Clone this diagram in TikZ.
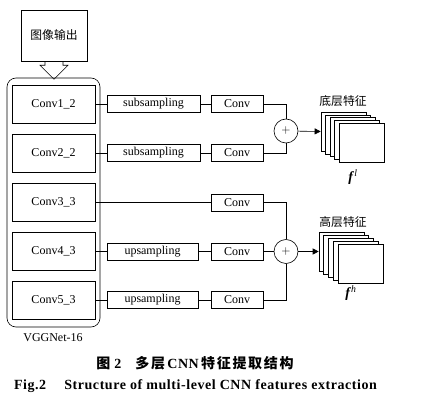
\documentclass[tikz,border=0pt]{standalone}
\usepackage{fontspec}
\setmainfont{Liberation Serif}
\newfontfamily\cjk{Noto Sans CJK SC}
\usetikzlibrary{arrows.meta, positioning, calc}

\begin{document}
\begin{tikzpicture}[
        x=1pt, y=-1pt, line width=0.6pt, font=\fontsize{12}{14}\selectfont,
        layer/.style={draw, minimum width=83pt, minimum height=38pt, inner sep=0pt},
        op/.style={draw, minimum height=17pt, inner sep=0pt},
        sum/.style={draw, circle, minimum size=24pt, inner sep=0pt},
        fm/.style={draw, fill=white, minimum width=45pt, minimum height=39pt, inner sep=0pt},
        lab/.style={font=\cjk\fontsize{11.8}{14}\selectfont},
        figcap/.style={font=\fontsize{14}{16}\selectfont\bfseries\addfontfeature{LetterSpace=4}},
        a/.style={-{Triangle[length=6pt, width=6pt]}},
      ]
        \useasboundingbox (0,0) rectangle (423,403);
        \node[draw, lab, minimum width=66pt, minimum height=51pt] (img) at (54,35.5) {图像输出};
        \node[draw, rounded corners=9pt, minimum width=93pt, minimum height=249pt] (vgg) at (53.5,202.5) {};
        % 空心箭头
        \draw (img.south) ++(-9,0) -- ++(0,4) -- ++(-5,0) -- ++(14,14) -- ++(14,-14) -- ++(-5,0) -- ++(0,-4);
        \node (vname) at (53,338) {VGGNet-16};
        % VGG 卷积层
        \node[layer] (c1) at (53.5,104)   {Conv1\_2};
        \node[layer] (c2) at (53.5,153)   {Conv2\_2};
        \node[layer] (c3) at (53.5,202.5) {Conv3\_3};
        \node[layer] (c4) at (53.5,251.5) {Conv4\_3};
        \node[layer] (c5) at (53.5,300)   {Conv5\_3};
        \node[op, minimum width=93pt] (sub1) at (153.5,104) {subsampling};
        \node[op, minimum width=93pt] (sub2) at (153.5,153) {subsampling};
        \node[op, minimum width=91pt] (up4)  at (152.5,251.5) {upsampling};
        \node[op, minimum width=91pt] (up5)  at (152.5,300) {upsampling};
        \node[op, minimum width=52pt] (k1) at (237,104)   {Conv};
        \node[op, minimum width=52pt] (k2) at (237,153)   {Conv};
        \node[op, minimum width=52pt] (k3) at (237,202.5) {Conv};
        \node[op, minimum width=52pt] (k4) at (237,251.5) {Conv};
        \node[op, minimum width=52pt] (k5) at (237,300)   {Conv};
        \node[sum] (s1) at (286,131) {$+$};
        \node[sum] (s2) at (286,251.5) {$+$};
        \draw (c1) -- (sub1) -- (k1);
        \draw (c2) -- (sub2) -- (k2);
        \draw (c3) -- (k3);
        \draw (c4) -- (up4) -- (k4);
        \draw (c5) -- (up5) -- (k5);
        \draw (k1.east) -| (s1.north);
        \draw (k2.east) -| (s1.south);
        \draw (k3.east) -| (s2.north);
        \draw (k4) -- (s2);
        \draw (k5.east) -| (s2.south);
        % 特征图
        \foreach \i in {0,...,4} {
          \node[fm] (f\i) at (343.5+4.5*\i,131.5+2.9*\i) {};
          \node[fm] (g\i) at (341.5+4.75*\i,251.5+3*\i) {};
        }
        \draw[a] (s1) -- (f0.west);
        \draw[a] (s2) -- (g0.west);
        \node[lab] (low) at (343,101) {底层特征};
        \node[lab] (high) at (343,222) {高层特征};
        \node[font=\fontsize{14}{16}\selectfont] (fl) at (353,177) {\textbf{\textit{f}}\textsuperscript{\textit{l}}};
        \node[font=\fontsize{14}{16}\selectfont] (fh) at (351,293) {\textbf{\textit{f}}\textsuperscript{\textit{h}}};
        % 图题
        \node[figcap] (cap1) at (195,363) {{\cjk\addfontfeature{LetterSpace=12}图}\;2\quad{\cjk\addfontfeature{LetterSpace=12}多层}\,CNN\,{\cjk\addfontfeature{LetterSpace=12}特征提取结构}};
        \node[figcap] (cap2) at (195.5,386) {Fig.2\quad\ Structure of multi-level CNN features extraction};
      \end{tikzpicture}
\end{document}
